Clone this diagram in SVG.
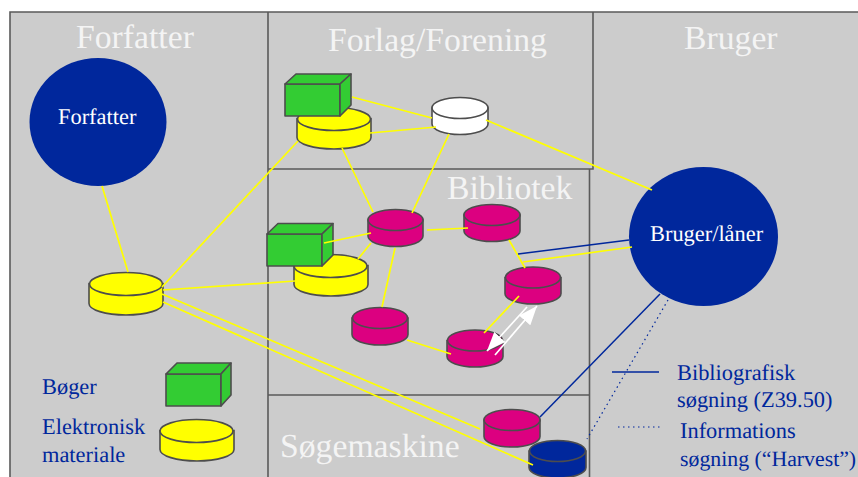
<svg xmlns="http://www.w3.org/2000/svg" width="858" height="477" viewBox="0 0 858 477">
<style>
text{font-family:"Liberation Serif","Times New Roman",serif;text-rendering:geometricPrecision}
.h{font-size:33.7px;fill:#f4f4f4}
.n{font-size:22.4px;fill:#fff}
.l{font-size:22.4px;fill:#00279c}
.f{fill:none;stroke:#5a5a5a;stroke-width:1.6}
.c path,.c ellipse,.b path{stroke:#4d4d4d;stroke-width:1.6}
.y path,.y ellipse{fill:#ff0}
.m path,.m ellipse{fill:#dc0080}
.w path,.w ellipse{fill:#fff}
.d path,.d ellipse{fill:#00279c}
.b path{fill:#33cc33;stroke-linejoin:round}
.cy{stroke:#ff0;stroke-width:1.7;fill:none}
.cb{stroke:#00279c;stroke-width:1.5;fill:none}
.cd{stroke:#00279c;stroke-width:1.2;stroke-dasharray:1.500 3.500;fill:none}
.ca{stroke:#fff;stroke-width:1.700;fill:none;marker-end:url(#ah)}
</style>
<defs>
<marker id="ah" markerUnits="userSpaceOnUse" markerWidth="20" markerHeight="16" refX="19" refY="8" orient="auto">
<path d="M0,0.500L19,8L0,15.500Z" fill="#fff"/>
</marker>
</defs>
<rect x="10" y="12" width="848" height="465" fill="#cccccc"/>
<g id="frame">
<path class="f" d="M10,477V12H858M268,12V477M593,12V169H268M589.500,169V477M268,395H590"/>
</g>
<g id="legend-lines">
<path class="cb" d="M612,372H659"/>
<path class="cd" d="M618,427H660"/>
</g>
<g id="forfatter"><ellipse cx="98" cy="122" rx="68.500" ry="64" fill="#00279c"/></g>
<g id="bruger"><ellipse cx="703.500" cy="236.500" rx="74.500" ry="69.500" fill="#00279c"/></g>
<g id="yellow-forlag" class="c y"><path d="M297,118.500V137.500A37,11.500 0 0 0 371,137.500V118.500Z"/><ellipse cx="334" cy="119" rx="36.500" ry="11.500"/></g>
<g id="book-forlag" class="b"><path d="M285,84H340V116H285Z"/><path d="M285,84L296,74H351L340,84Z"/><path d="M340,84L351,74V105L340,116Z"/></g>
<g id="white-forlag" class="c w"><path d="M432,108V124A28,10.500 0 0 0 488,124V108Z"/><ellipse cx="460" cy="108" rx="28" ry="10.500"/></g>
<g id="mag-a" class="c m"><path d="M368,220V236A27.500,10.500 0 0 0 423,236V220Z"/><ellipse cx="395.500" cy="220" rx="27.500" ry="10.500"/></g>
<g id="mag-b" class="c m"><path d="M464,215V231A28,10.500 0 0 0 520,231V215Z"/><ellipse cx="492" cy="215" rx="28" ry="10.500"/></g>
<g id="mag-c" class="c m"><path d="M505,277.500V293.500A28,10.500 0 0 0 561,293.500V277.500Z"/><ellipse cx="533" cy="277.500" rx="27.500" ry="10.500"/></g>
<g id="mag-d" class="c m"><path d="M447,340.500V356.500A28,10.500 0 0 0 503,356.500V340.500Z"/><ellipse cx="475" cy="340.500" rx="27.500" ry="10.500"/></g>
<g id="mag-e" class="c m"><path d="M352,318V334.500A28,10.500 0 0 0 408,334.500V318Z"/><ellipse cx="380" cy="318" rx="27.500" ry="10.500"/></g>
<g id="mag-f" class="c m"><path d="M484,420V436.500A28,10.500 0 0 0 540,436.500V420Z"/><ellipse cx="512" cy="420" rx="28" ry="10.500"/></g>
<g id="navy" class="c d"><path d="M529,451V467.500A28.500,10.500 0 0 0 586,467.500V451Z"/><ellipse cx="557.500" cy="451" rx="28" ry="10.500"/></g>
<g id="yellow-main" class="c y"><path d="M89,283.500V303.500A37,11.500 0 0 0 163,303.500V283.500Z"/><ellipse cx="126" cy="284" rx="36.500" ry="11.500"/></g>
<g id="yellow-bib" class="c y"><path d="M294,265.500V284.500A37,11.500 0 0 0 368,284.500V265.500Z"/><ellipse cx="330.500" cy="266" rx="36.500" ry="11.500"/></g>
<g id="book-bib" class="b"><path d="M267,234H322V266H267Z"/><path d="M267,234L278,223.500H333L322,234Z"/><path d="M322,234L333,223.500V255L322,266Z"/></g>
<g id="book-legend" class="b"><path d="M166,374H221V406H166Z"/><path d="M166,374L177,363H231L221,374Z"/><path d="M221,374L231,363V395L221,406Z"/></g>
<g id="yellow-legend" class="c y"><path d="M160,430.500V449.500A37,11.500 0 0 0 234,449.500V430.500Z"/><ellipse cx="196.500" cy="431" rx="36.500" ry="11.500"/></g>
<g id="connectors">
<path class="cy" d="M102,186L128,272"/>
<path class="cy" d="M162,287L298,141"/>
<path class="cy" d="M163,290L295,281"/>
<path class="cy" d="M162,294L480,429"/>
<path class="cy" d="M163,302L533,465"/>
<path class="cy" d="M352,97L432,118"/>
<path class="cy" d="M370,133L436,127"/>
<path class="cy" d="M342,148L373,212"/>
<path class="cy" d="M449,134L412,213"/>
<path class="cy" d="M486,120L652,190"/>
<path class="cy" d="M324,243L371,233"/>
<path class="cy" d="M427,230L468,228"/>
<path class="cy" d="M358,259L371,243"/>
<path class="cy" d="M395,248L382,307"/>
<path class="cy" d="M407,340L451,354"/>
<path class="cy" d="M509,240L525,268"/>
<path class="cy" d="M519,296L484,333"/>
<path class="cy" d="M523,262L632,247"/>
<path class="cb" d="M518,254L629,240"/>
<path class="cb" d="M660,294L540,417"/>
<path class="cd" d="M668,300L587,439"/>
<path class="ca" d="M527,307L487,351"/>
<path class="ca" d="M495,355L537,306"/>
</g>
<g id="labels">
<text class="h" x="76" y="48">Forfatter</text>
<text class="h" x="328" y="51">Forlag/Forening</text>
<text class="h" x="684" y="49">Bruger</text>
<text class="h" x="447" y="199">Bibliotek</text>
<text class="h" x="280" y="457">Søgemaskine</text>
<text class="n" x="58" y="124">Forfatter</text>
<text class="n" x="650" y="241">Bruger/låner</text>
<text class="l" x="42" y="394">Bøger</text>
<text class="l" x="42" y="434">Elektronisk</text>
<text class="l" x="42" y="462">materiale</text>
<text class="l" x="677" y="380">Bibliografisk</text>
<text class="l" x="677" y="407">søgning (Z39.50)</text>
<text class="l" x="680" y="438">Informations</text>
<text class="l" x="680" y="466" style="font-size:21.800px">søgning (“Harvest”)</text>
</g>
</svg>
